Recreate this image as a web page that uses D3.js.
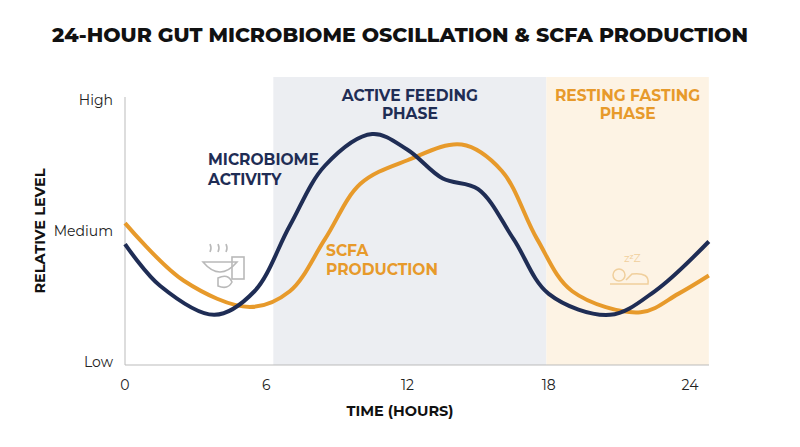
<!DOCTYPE html>
<html><head><meta charset="utf-8">
<script src="https://cdn.jsdelivr.net/npm/d3@7"></script>
<style>body{margin:0;background:#fff}svg{font-family:'Montserrat','Inter','Lato',sans-serif}</style>
</head><body><svg id="c" width="800" height="447"></svg>
<script>
const xTicks=[0,6,12,18,24];
const yTicks=["Low","Medium","High"];
const microHours=[0,1.5,3.8,5.5,7,8.5,10.5,12,13.5,15,16.5,18,20.6,22.5,24.8];
const microVals=[0.45,0.29,0.18,0.27,0.52,0.75,0.87,0.81,0.70,0.66,0.47,0.26,0.18,0.27,0.46];
const scfaHours=[0,2.5,5.3,7,8.5,10,12,14.3,16,17.5,19,21.9,23.5,24.8];
const scfaVals=[0.53,0.31,0.21,0.27,0.47,0.68,0.77,0.83,0.73,0.47,0.27,0.19,0.26,0.33];
const phases=[{label:["ACTIVE FEEDING","PHASE"],from:6.3,to:17.9,fill:"#eceef2",col:"#1f2d55"},
              {label:["RESTING FASTING","PHASE"],from:17.9,to:24.8,fill:"#fdf3e4",col:"#e79a2b"}];
const svg=d3.select("#c");
const x=d3.scaleLinear().domain([0,24]).range([125,690]);
const y=d3.scaleLinear().domain([0,1]).range([362,100]);
const navy="#1f2d55",orange="#e79a2b";
svg.append("text").attr("x",400).attr("y",42).attr("text-anchor","middle").attr("font-size",20.5).attr("font-weight",800).attr("fill","#111").text("24-HOUR GUT MICROBIOME OSCILLATION & SCFA PRODUCTION");
phases.forEach(p=>{
  svg.append("rect").attr("x",x(p.from)).attr("y",77).attr("width",x(p.to)-x(p.from)).attr("height",365-77).attr("fill",p.fill);
  p.label.forEach((l,i)=>svg.append("text").attr("x",(x(p.from)+x(p.to))/2).attr("y",101+i*18).attr("text-anchor","middle").attr("font-size",15.5).attr("font-weight",700).attr("fill",p.col).text(l));
});
svg.append("line").attr("x1",125).attr("x2",125).attr("y1",97).attr("y2",365).attr("stroke","#bbb");
svg.append("line").attr("x1",125).attr("x2",709).attr("y1",365).attr("y2",365).attr("stroke","#bbb");
xTicks.forEach(t=>svg.append("text").attr("x",x(t)).attr("y",390).attr("text-anchor","middle").attr("font-size",14).attr("fill","#222").text(t));
yTicks.forEach((t,i)=>svg.append("text").attr("x",113).attr("y",y(i/2)+5).attr("text-anchor","end").attr("font-size",14).attr("fill","#222").text(t));
svg.append("text").attr("x",400).attr("y",416).attr("text-anchor","middle").attr("font-size",14.5).attr("font-weight",700).attr("fill","#111").text("TIME (HOURS)");
svg.append("text").attr("transform","translate(45,231) rotate(-90)").attr("text-anchor","middle").attr("font-size",14.5).attr("font-weight",700).attr("fill","#111").text("RELATIVE LEVEL");
const line=d3.line().x(d=>x(d[0])).y(d=>y(d[1])).curve(d3.curveCatmullRom.alpha(0.5));
svg.append("path").attr("d",line(d3.zip(scfaHours,scfaVals))).attr("fill","none").attr("stroke",orange).attr("stroke-width",4);
svg.append("path").attr("d",line(d3.zip(microHours,microVals))).attr("fill","none").attr("stroke",navy).attr("stroke-width",4);
[["MICROBIOME",165],["ACTIVITY",185]].forEach(a=>svg.append("text").attr("x",208).attr("y",a[1]).attr("font-size",15.5).attr("font-weight",700).attr("fill",navy).text(a[0]));
[["SCFA",256],["PRODUCTION",275]].forEach(a=>svg.append("text").attr("x",326).attr("y",a[1]).attr("font-size",15.5).attr("font-weight",700).attr("fill",orange).text(a[0]));
const f=svg.append("g").attr("fill","none").attr("stroke","#b9b9b9").attr("stroke-width",1.6);
f.append("path").attr("d","M203,262 Q220,282 237,262 Z");
f.append("rect").attr("x",232).attr("y",257).attr("width",12).attr("height",22);
f.append("path").attr("d","M218,278 q10,-5 14,4 q-4,8 -14,4 z");
f.append("path").attr("d","M210,252 q2,-4 0,-8 M218,252 q2,-4 0,-8 M226,252 q2,-4 0,-8");
const s=svg.append("g").attr("fill","none").attr("stroke","#f0cf9c").attr("stroke-width",1.5);
s.append("circle").attr("cx",619).attr("cy",275).attr("r",6);
s.append("path").attr("d","M610,284 L648,284 Q650,272 632,274 L626,280");
svg.append("text").attr("x",624).attr("y",262).attr("font-size",11).attr("fill","#f0cf9c").text("zᶻZ");
</script></body></html>
